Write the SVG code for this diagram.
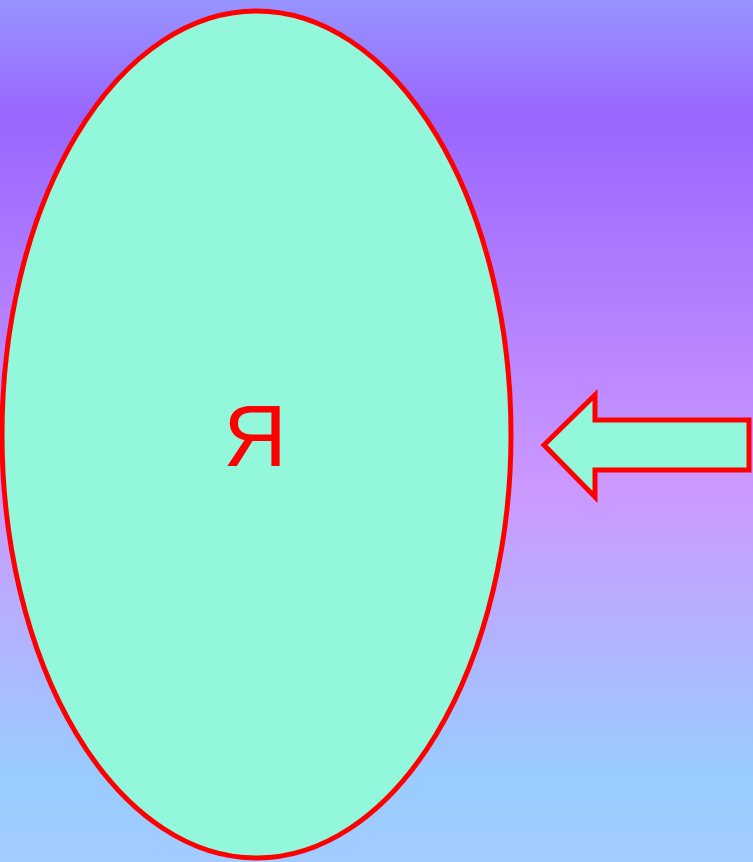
<svg xmlns="http://www.w3.org/2000/svg" width="753" height="862" viewBox="0 0 753 862">
<defs>
<linearGradient id="bg" x1="0" y1="0" x2="0" y2="1">
<stop offset="0" stop-color="#9794FF"/>
<stop offset="0.135" stop-color="#9966FF"/>
<stop offset="0.57" stop-color="#CC99FF"/>
<stop offset="0.9" stop-color="#99CCFF"/>
<stop offset="1" stop-color="#A3CCFF"/>
</linearGradient>
<style>
.shape{fill:#93F7DB;stroke:#FF0000;stroke-width:5;stroke-linejoin:miter}
.lbl{font-family:"Liberation Sans",Arial,sans-serif;font-size:88px;fill:#FF0000;text-anchor:middle}
</style>
</defs>
<rect x="0" y="0" width="753" height="862" fill="url(#bg)"/>
<g id="node-ellipse">
<ellipse class="shape" cx="256.5" cy="434.5" rx="254.5" ry="423.5"/>
<text class="lbl" x="255" y="466">Я</text>
</g>
<g id="connectors">
<path class="shape" d="M544,445 L595,395 L595,420 L749,420 L749,470 L595,470 L595,497 Z"/>
</g>
</svg>
